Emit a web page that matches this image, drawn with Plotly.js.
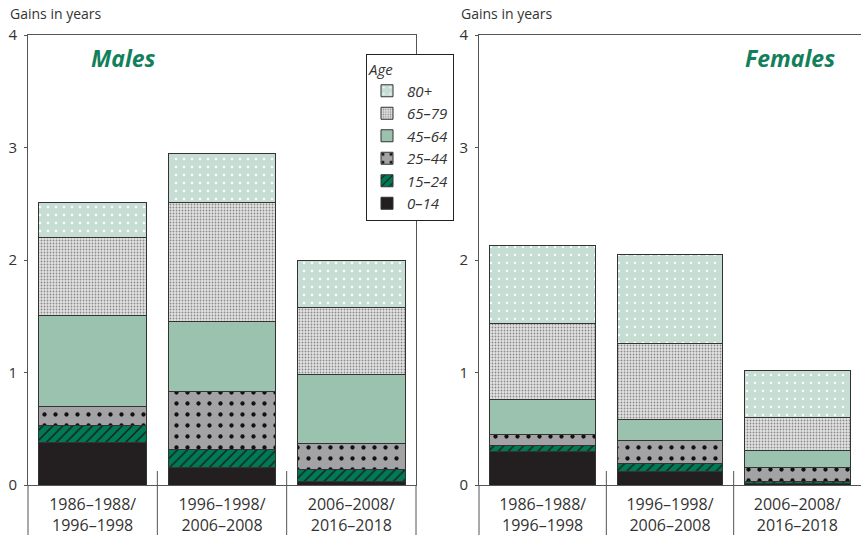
<!DOCTYPE html>
<html>
<head>
<meta charset="utf-8">
<script src="https://cdn.plot.ly/plotly-3.0.1.min.js"></script>
<style>html,body{margin:0;padding:0;background:#fff}#chart{width:861px;height:535px}</style>
</head>
<body>
<div id="chart"></div>
<script>
// ---- data ----
const categories = ['1986–1988/<br>1996–1998', '1996–1998/<br>2006–2008', '2006–2008/<br>2016–2018'];
const ageGroups = ['0–14', '15–24', '25–44', '45–64', '65–79', '80+'];
const yTicks = [0, 1, 2, 3, 4];

const males_0_14  = [0.38, 0.16, 0.03];
const males_15_24 = [0.15, 0.16, 0.11];
const males_25_44 = [0.17, 0.51, 0.23];
const males_45_64 = [0.81, 0.62, 0.61];
const males_65_79 = [0.69, 1.06, 0.60];
const males_80    = [0.31, 0.44, 0.42];

const females_0_14  = [0.30, 0.12, 0.01];
const females_15_24 = [0.05, 0.07, 0.02];
const females_25_44 = [0.10, 0.21, 0.13];
const females_45_64 = [0.31, 0.18, 0.15];
const females_65_79 = [0.68, 0.68, 0.29];
const females_80    = [0.69, 0.79, 0.42];

const malesSeries = [males_0_14, males_15_24, males_25_44, males_45_64, males_65_79, males_80];
const femalesSeries = [females_0_14, females_15_24, females_25_44, females_45_64, females_65_79, females_80];

// ---- styles ----
const styles = [
  {color: '#231f20', pattern: {shape: ''}},
  {color: '#007a55', pattern: {shape: '/', fgcolor: '#1a1a1a', bgcolor: '#007a55', size: 7, solidity: 0.2, fillmode: 'replace'}},
  {color: '#a3a3a5', pattern: {shape: '.', fgcolor: '#111', bgcolor: '#a3a3a5', size: 11, solidity: 0.12, fillmode: 'replace'}},
  {color: '#9bc2af', pattern: {shape: ''}},
  {color: '#dedede', pattern: {shape: '.', fgcolor: '#8a8a8a', bgcolor: '#e4e4e4', size: 3, solidity: 0.3, fillmode: 'replace'}},
  {color: '#c6ddd3', pattern: {shape: '.', fgcolor: '#ffffff', bgcolor: '#c6ddd3', size: 8, solidity: 0.08, fillmode: 'replace'}}
];

const traces = [];
function addPanel(series, xa, ya, showLegend) {
  series.forEach((vals, i) => {
    traces.push({
      type: 'bar',
      x: categories,
      y: vals,
      name: '<i>' + ageGroups[i] + '</i>',
      showlegend: showLegend,
      xaxis: xa, yaxis: ya,
      marker: {color: styles[i].color, pattern: styles[i].pattern, line: {color: '#333', width: 1}},
      hoverinfo: 'y'
    });
  });
}
addPanel(malesSeries, 'x', 'y', true);
addPanel(femalesSeries, 'x2', 'y2', false);

const W = 861, H = 535;
const px = v => v / W;
const py = v => (H - v) / H;

const fam = 'Open Sans, sans-serif';
const xBase = {
  type: 'category', range: [-0.5, 2.5], showline: true, mirror: true, linecolor: '#555', linewidth: 1,
  ticks: '', showgrid: false, zeroline: false, tickfont: {family: fam, size: 16, color: '#333'}, ticklabelstandoff: 5
};
const yBase = {
  range: [0, 4], tickvals: yTicks, ticktext: yTicks.map(String), showline: true, mirror: true,
  linecolor: '#555', linewidth: 1, ticks: 'outside', ticklen: 3, tickcolor: '#555',
  showgrid: false, zeroline: false, tickfont: {family: fam, size: 15, color: '#333'}, ticklabelstandoff: 4
};

const lineStyle = {color: '#555', width: 1};
const shapes = [
  {type: 'line', xref: 'paper', yref: 'paper', x0: px(28), x1: px(28), y0: 0, y1: py(485), line: lineStyle},
  {type: 'line', xref: 'paper', yref: 'paper', x0: px(416), x1: px(416), y0: 0, y1: py(485), line: lineStyle},
  {type: 'line', xref: 'x', yref: 'paper', x0: 0.5, x1: 0.5, y0: 0, y1: py(471), line: lineStyle},
  {type: 'line', xref: 'x', yref: 'paper', x0: 1.5, x1: 1.5, y0: 0, y1: py(471), line: lineStyle},
  {type: 'line', xref: 'paper', yref: 'paper', x0: px(479), x1: px(479), y0: 0, y1: py(485), line: lineStyle},
  {type: 'line', xref: 'x2', yref: 'paper', x0: 0.5, x1: 0.5, y0: 0, y1: py(471), line: lineStyle},
  {type: 'line', xref: 'x2', yref: 'paper', x0: 1.5, x1: 1.5, y0: 0, y1: py(471), line: lineStyle}
];

const layout = {
  width: W, height: H,
  margin: {l: 0, r: 0, t: 0, b: 0},
  paper_bgcolor: '#fff', plot_bgcolor: '#fff',
  barmode: 'stack', bargap: 0.17,
  font: {family: fam, color: '#333'},
  xaxis: Object.assign({}, xBase, {domain: [px(28), px(416)], anchor: 'y'}),
  yaxis: Object.assign({}, yBase, {domain: [py(485), py(35)], anchor: 'x'}),
  xaxis2: Object.assign({}, xBase, {domain: [px(479), 1], anchor: 'y2'}),
  yaxis2: Object.assign({}, yBase, {domain: [py(485), py(35)], anchor: 'x2'}),
  showlegend: true,
  legend: {
    x: px(366), y: py(54), xanchor: 'left', yanchor: 'top',
    traceorder: 'reversed', bgcolor: '#fff', bordercolor: '#222', borderwidth: 1,
    font: {family: fam, size: 15, color: '#333'},
    title: {text: '<i>Age</i>', font: {family: fam, size: 15, color: '#333'}},
    itemwidth: 30
  },
  shapes: shapes,
  annotations: [
    {text: 'Gains in years', xref: 'paper', yref: 'paper', x: px(8), y: py(14), xanchor: 'left', yanchor: 'middle', showarrow: false, font: {size: 14, color: '#333'}},
    {text: 'Gains in years', xref: 'paper', yref: 'paper', x: px(459), y: py(14), xanchor: 'left', yanchor: 'middle', showarrow: false, font: {size: 14, color: '#333'}},
    {text: '<b><i>Males</i></b>', xref: 'paper', yref: 'paper', x: px(89), y: py(58), xanchor: 'left', yanchor: 'middle', showarrow: false, font: {size: 23, color: '#12805c'}},
    {text: '<b><i>Females</i></b>', xref: 'paper', yref: 'paper', x: px(837), y: py(58), xanchor: 'right', yanchor: 'middle', showarrow: false, font: {size: 23, color: '#12805c'}}
  ]
};

Plotly.newPlot('chart', traces, layout, {displayModeBar: false, staticPlot: true});
</script>
</body>
</html>
